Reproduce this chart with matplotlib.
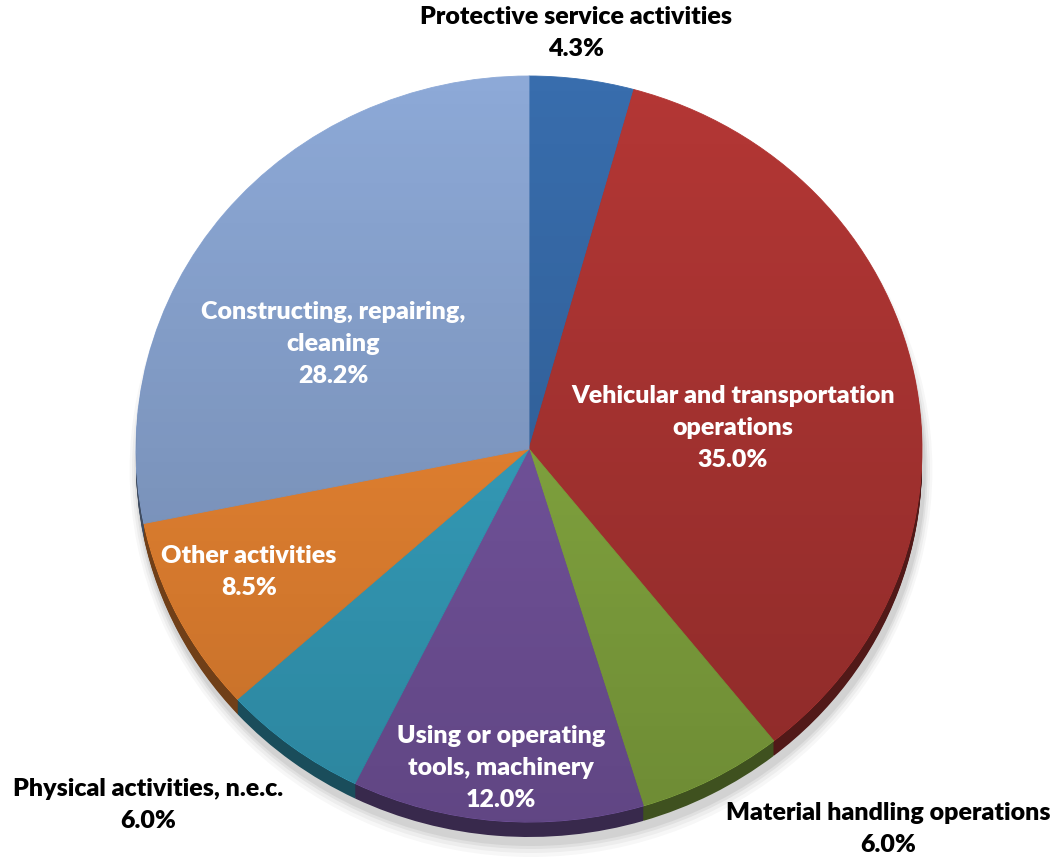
import numpy as np
import matplotlib
matplotlib.use("Agg")
import matplotlib.pyplot as plt
from matplotlib.transforms import Affine2D
from matplotlib.patches import Ellipse
import matplotlib.colors as mcolors

# ---- data ----
categories = ["Protective service activities",
              "Vehicular and transportation\noperations",
              "Material handling operations",
              "Using or operating\ntools, machinery",
              "Physical activities, n.e.c.",
              "Other activities",
              "Constructing, repairing,\ncleaning"]
values = [4.3, 35.0, 6.0, 12.0, 6.0, 8.5, 28.2]
colors = ["#386DAD", "#B43735", "#8DB344", "#7C5AA9", "#39AACA", "#F88D35", "#8DA9D7"]

W, H = 1053, 857
fig = plt.figure(figsize=(W / 100, H / 100), dpi=100)
ax = fig.add_axes([0, 0, 1, 1])
ax.set_xlim(0, W)
ax.set_ylim(H, 0)
ax.axis("off")

cx, cy, rx, ry = 529, 449, 393, 373
depth = 15
plt.rcParams["font.family"] = ["Lato", "DejaVu Sans"]

# soft shadow
for grow, a in [(14, 0.03), (10, 0.04), (6, 0.05), (3, 0.06)]:
    ax.add_patch(Ellipse((cx + 2, cy + depth + 6), 2 * (rx + grow * 0.6), 2 * (ry + grow),
                         facecolor="black", alpha=a, edgecolor="none", zorder=0))

def pie_tf(dy):
    return Affine2D().scale(rx, -ry).translate(cx, cy + dy) + ax.transData

# side (depth) of the pie
dark = [tuple(np.array(mcolors.to_rgb(c)) * 0.45) for c in colors]
for k in range(depth, 0, -1):
    ws, _ = ax.pie(values, colors=dark, startangle=90, counterclock=False,
                   radius=1, center=(0, 0), frame=True,
                   wedgeprops=dict(linewidth=0, antialiased=True))
    for w in ws:
        w.set_transform(pie_tf(k))
        w.set_zorder(1)

# top face
wedges, _ = ax.pie(values, colors=colors, startangle=90, counterclock=False,
                   radius=1, center=(0, 0), frame=True,
                   wedgeprops=dict(linewidth=0.6, antialiased=True))
for w, c in zip(wedges, colors):
    w.set_transform(pie_tf(0))
    w.set_edgecolor(c)
    w.set_zorder(2)

ax.set_xlim(0, W)
ax.set_ylim(H, 0)
ax.set_aspect("auto")
ax.axis("off")

# vertical shading overlay clipped to the top face
grad = np.zeros((256, 2, 4))
t = np.linspace(0, 1, 256)
grad[..., 3] = (0.22 * t)[:, None]
clip = Ellipse((0, 0), 2, 2, transform=pie_tf(0))
ax.add_patch(clip)
clip.set_visible(False)
im = ax.imshow(grad, extent=(cx - rx, cx + rx, cy + ry, cy - ry), aspect="auto",
               zorder=3, interpolation="bilinear")
im.set_clip_path(clip)
ax.set_xlim(0, W)
ax.set_ylim(H, 0)

fs = 18
ls = 1.55
white = dict(color="white", fontsize=fs, fontweight="heavy", ha="center", va="center",
             zorder=5, linespacing=ls)
black = dict(color="black", fontsize=fs, fontweight="heavy", ha="center", va="center",
             zorder=5, linespacing=ls)

def lbl(i):
    return f"{categories[i]}\n{values[i]:.1f}%"

ax.text(576, 33, lbl(0), **black)
ax.text(733, 428, lbl(1), **white)
ax.text(888, 829, lbl(2), **black)
ax.text(501, 768, lbl(3), **white)
ax.text(148, 805, lbl(4), **black)
ax.text(249, 572, lbl(5), **white)
ax.text(333, 344, lbl(6), **white)

fig.savefig("out.png", dpi=100)
